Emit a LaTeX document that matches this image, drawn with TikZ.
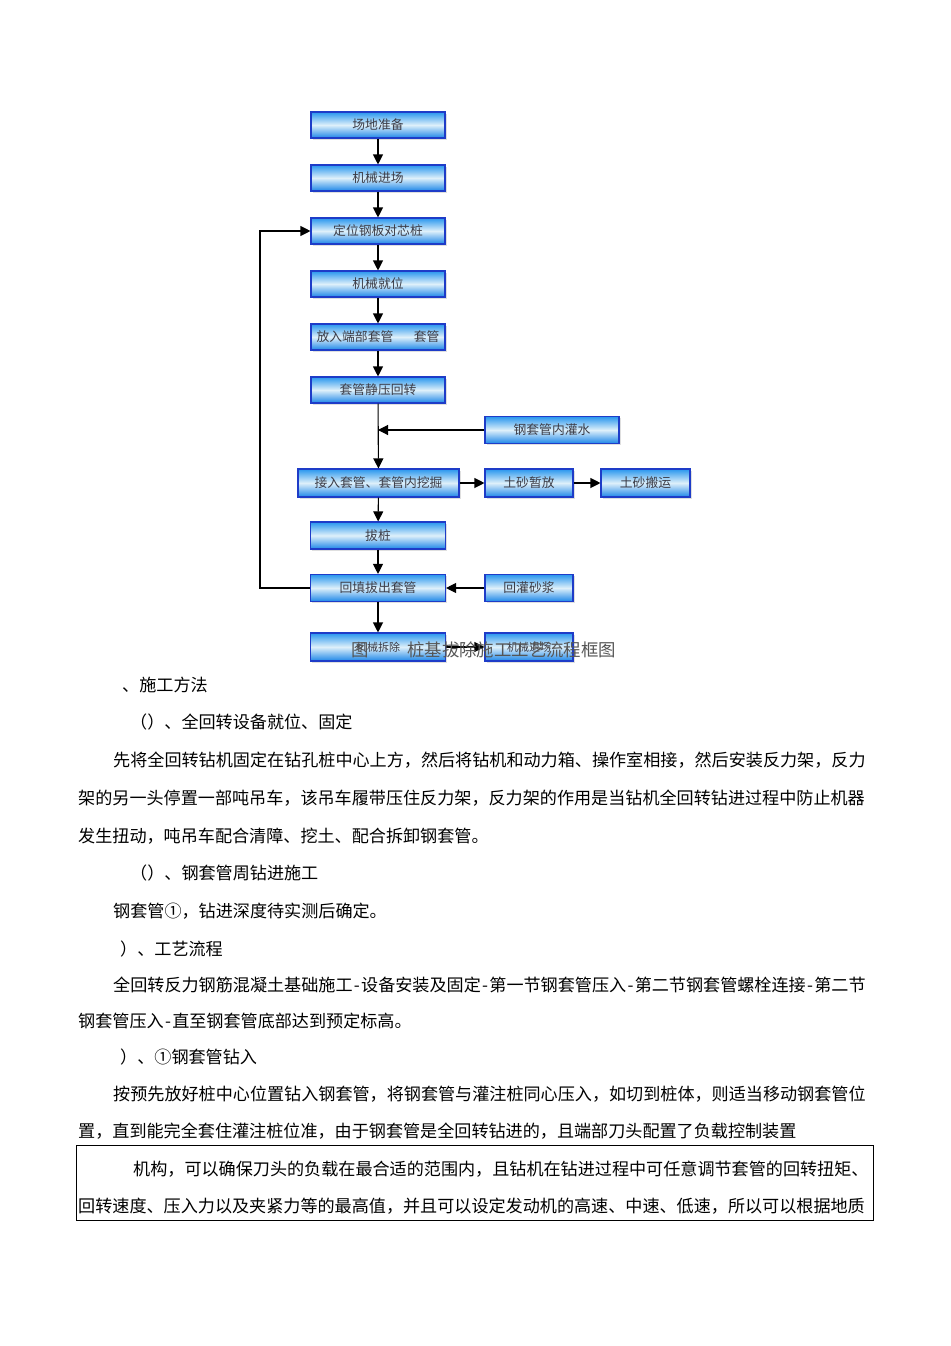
\documentclass[tikz,border=0pt]{standalone}
\usepackage{fontspec}
\newfontfamily\cjk{Noto Sans CJK SC}
\usetikzlibrary{arrows.meta,shadows}
\definecolor{boxtop}{RGB}{40,150,238}
\definecolor{boxmid}{RGB}{222,240,250}
\definecolor{boxbot}{RGB}{28,134,232}
\definecolor{boxline}{RGB}{30,60,200}
\definecolor{boxtext}{RGB}{60,60,70}
\definecolor{captext}{RGB}{85,85,85}
\newcommand{\hy}{\makebox[0.5em]{-}}
\begin{document}
\begin{tikzpicture}[x=1pt,y=-1pt,
  flowbox/.style={draw=boxline, line width=1.1pt, top color=boxtop, bottom color=boxbot, middle color=boxmid,
    minimum height=26pt, inner sep=0pt, text=boxtext, font=\cjk\fontsize{12.8}{13}\selectfont,
    drop shadow={shadow xshift=1.5pt, shadow yshift=-1.5pt, opacity=0.25}},
  link/.style={line width=1.1pt, -{Triangle[length=10pt,width=10pt]}},
  bodytext/.style={anchor=west, inner sep=0pt, font=\cjk\fontsize{17.1}{18}\selectfont, text=black},
  caption/.style={anchor=west, inner sep=0pt, font=\cjk\fontsize{17.4}{18}\selectfont, text=captext}]
\useasboundingbox (0,0) rectangle (950,1346);
\fill[white] (0,0) rectangle (950,1346);

% flow chart
\node[flowbox, minimum width=134pt] (n1) at (378,125) {场地准备};
\node[flowbox, minimum width=134pt] (n2) at (378,178) {机械进场};
\node[flowbox, minimum width=134pt] (n3) at (378,231) {定位钢板对芯桩};
\node[flowbox, minimum width=134pt] (n4) at (378,284) {机械就位};
\node[flowbox, minimum width=134pt] (n5) at (378,337) {放入端部套管\hspace{1.6em}套管};
\node[flowbox, minimum width=134pt] (n6) at (378,390) {套管静压回转};
\node[flowbox, minimum width=134pt, minimum height=27pt] (w) at (552,430) {钢套管内灌水};
\node[flowbox, minimum width=161pt, minimum height=28pt] (n7) at (378.5,483) {接入套管、套管内挖掘};
\node[flowbox, minimum width=88pt, minimum height=28pt] (s1) at (529,483) {土砂暂放};
\node[flowbox, minimum width=89pt, minimum height=28pt] (s2) at (645.5,483) {土砂搬运};
\node[flowbox, minimum width=135pt, minimum height=27pt] (n8) at (378,535.5) {拔桩};
\node[flowbox, minimum width=135pt, minimum height=27pt] (n9) at (378,588) {回填拔出套管};
\node[flowbox, minimum width=88pt, minimum height=27pt] (m) at (529,588) {回灌砂浆};
\node[flowbox, minimum width=135pt, minimum height=28pt, font=\cjk\fontsize{11}{12}\selectfont] (n10) at (378,647) {机械拆除};
\node[flowbox, minimum width=88pt, minimum height=28pt, font=\cjk\fontsize{11}{12}\selectfont] (r) at (529,647) {机械退场};

\coordinate (j) at (378,430);
\coordinate (lx) at (260,0);

\draw[link] (n1) -- (n2);
\draw[link] (n2) -- (n3);
\draw[link] (n3) -- (n4);
\draw[link] (n4) -- (n5);
\draw[link] (n5) -- (n6);
\draw[link] (n6) -- (n7);
\draw[link] (w.west) -- (j);
\draw[link] (n7) -- (s1);
\draw[link] (s1) -- (s2);
\draw[link] (n7) -- (n8);
\draw[link] (n8) -- (n9);
\draw[link] (m) -- (n9);
\draw[link] (n9) -- (n10);
\draw[link] (n10) -- (r);
\draw[link] (n9.west) -- (lx |- n9.west) |- (n3.west);

% caption (overlapping the last row, as printed)
\node[caption] (capa) at (351,650) {图};
\node[caption] (capb) at (407,650) {桩基拔除施工工艺流程框图};

% body text
\node[bodytext] (t1) at (122,685) {、施工方法};
\node[bodytext] (t2) at (130,722) {（）、全回转设备就位、固定};
\node[bodytext] (t3) at (113,760) {先将全回转钻机固定在钻孔桩中心上方，然后将钻机和动力箱、操作室相接，然后安装反力架，反力};
\node[bodytext] (t4) at (78,798) {架的另一头停置一部吨吊车，该吊车履带压住反力架，反力架的作用是当钻机全回转钻进过程中防止机器};
\node[bodytext] (t5) at (78,836) {发生扭动，吨吊车配合清障、挖土、配合拆卸钢套管。};
\node[bodytext] (t6) at (130,873) {（）、钢套管周钻进施工};
\node[bodytext] (t7) at (113,911) {钢套管①，钻进深度待实测后确定。};
\node[bodytext] (t8) at (120,949) {）、工艺流程};
\node[bodytext] (t9) at (113,985) {全回转反力钢筋混凝土基础施工\hy 设备安装及固定\hy 第一节钢套管压入\hy 第二节钢套管螺栓连接\hy 第二节};
\node[bodytext] (t10) at (78,1021) {钢套管压入\hy 直至钢套管底部达到预定标高。};
\node[bodytext] (t11) at (120,1057) {）、①钢套管钻入};
\node[bodytext] (t12) at (113,1094) {按预先放好桩中心位置钻入钢套管，将钢套管与灌注桩同心压入，如切到桩体，则适当移动钢套管位};
\node[bodytext] (t13) at (78,1131) {置，直到能完全套住灌注桩位准，由于钢套管是全回转钻进的，且端部刀头配置了负载控制装置};

\node[draw=black, line width=0.7pt, minimum width=797pt, minimum height=75pt, inner sep=0pt] (frame) at (474.5,1182.5) {};
\node[bodytext] (t14) at (133,1169) {机构，可以确保刀头的负载在最合适的范围内，且钻机在钻进过程中可任意调节套管的回转扭矩、};
\node[bodytext] (t15) at (78,1206) {回转速度、压入力以及夹紧力等的最高值，并且可以设定发动机的高速、中速、低速，所以可以根据地质};
\end{tikzpicture}
\end{document}
